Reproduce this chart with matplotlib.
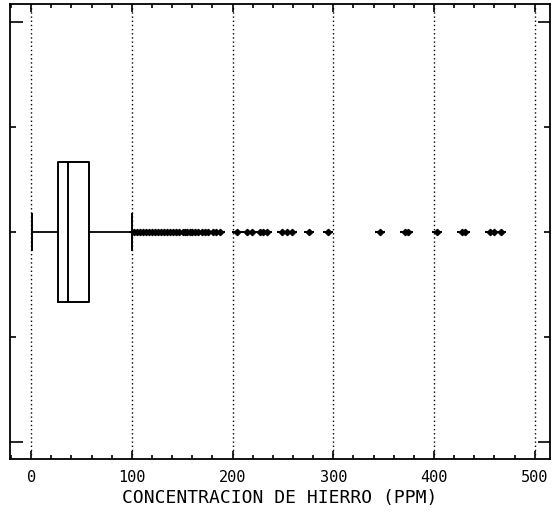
import matplotlib
matplotlib.use("Agg")
import matplotlib.pyplot as plt
from matplotlib.ticker import MultipleLocator, FixedLocator

# box statistics (ppm)
q1, med, q3 = 27, 37, 57
whisker_lo, whisker_hi = 1, 100
# points beyond the upper whisker
outliers = [102, 105, 108, 111, 114, 117, 120, 123, 126, 129, 132, 135,
            138, 141, 144, 147, 151, 153, 155, 158, 160, 163,
            166, 170, 173, 176, 181, 184, 187, 204, 214, 219, 227, 230, 234,
            249, 254, 259, 276, 295, 346, 371, 374, 403, 428, 431, 456, 460, 466]
x_ticks = [0, 100, 200, 300, 400, 500]
x_label = "CONCENTRACION DE HIERRO (PPM)"

fig = plt.figure(figsize=(5.56, 5.18), dpi=100)
ax = fig.add_axes([0.018, 0.114, 0.971, 0.878])

stats = [dict(med=med, q1=q1, q3=q3, whislo=whisker_lo, whishi=whisker_hi,
              fliers=outliers)]
ax.bxp(stats, positions=[2], widths=1.33, vert=False, capwidths=0.34,
       boxprops=dict(color="black", lw=1.4),
       medianprops=dict(color="black", lw=1.4),
       whiskerprops=dict(color="black", lw=1.3),
       capprops=dict(color="black", lw=1.4),
       flierprops=dict(marker="_", markersize=7, mew=1.5,
                       markeredgecolor="black"))
ax.plot(outliers, [2] * len(outliers), ls="none", marker="D", markersize=3.2,
        color="black")

ax.set_xlim(-21, 515)
ax.set_ylim(-0.162, 4.171)

ax.xaxis.set_major_locator(FixedLocator(x_ticks))
ax.xaxis.set_minor_locator(MultipleLocator(20))
ax.yaxis.set_major_locator(FixedLocator([0, 4]))
ax.yaxis.set_minor_locator(FixedLocator([1, 2, 3]))
ax.set_yticklabels([])
ax.tick_params(axis="both", which="both", direction="in", top=True,
               right=True, color="black", width=1.2)
ax.tick_params(axis="x", which="major", length=6, labelsize=11, pad=8)
ax.tick_params(axis="x", which="minor", length=3)
ax.tick_params(axis="y", which="major", length=9)
ax.tick_params(axis="y", which="minor", length=4)
for lab in ax.get_xticklabels():
    lab.set_family("DejaVu Sans Mono")

ax.grid(axis="x", which="major", ls=(0, (1, 2)), color="black", lw=1.0)
for s in ax.spines.values():
    s.set_linewidth(1.3)

ax.set_xlabel(x_label, family="DejaVu Sans Mono", fontsize=13, labelpad=3)

fig.savefig("out.png", dpi=100)
